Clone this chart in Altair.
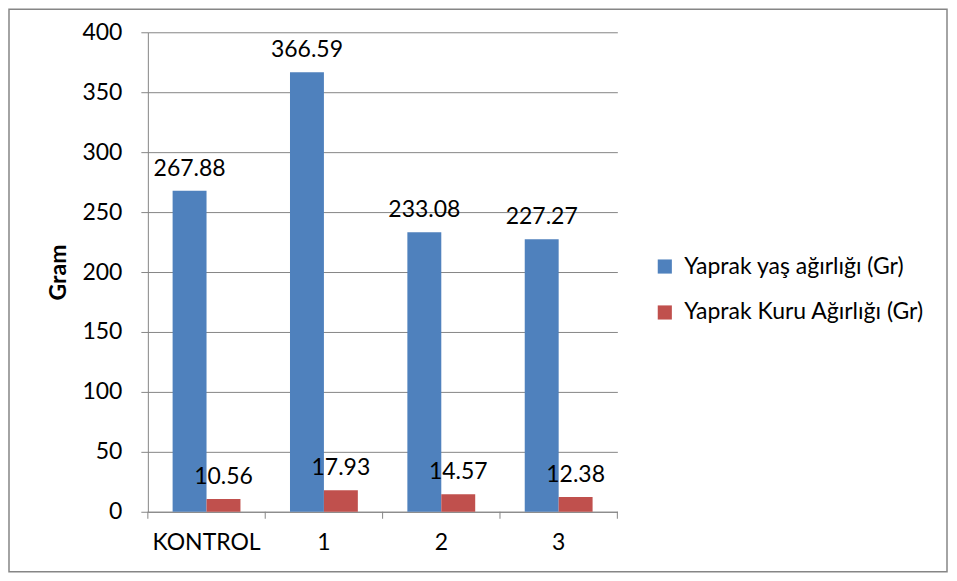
import altair as alt
import pandas as pd

categories = ["KONTROL", "1", "2", "3"]
series = ["Yaprak yaş ağırlığı (Gr)", "Yaprak Kuru Ağırlığı (Gr)"]
fresh = [267.88, 366.59, 233.08, 227.27]
dry = [10.56, 17.93, 14.57, 12.38]
colors = ["#4F81BD", "#C0504D"]

rows = []
for i, c in enumerate(categories):
    rows.append({"cat": c, "series": series[0], "value": fresh[i], "label": f"{fresh[i]:.2f}"})
    rows.append({"cat": c, "series": series[1], "value": dry[i], "label": f"{dry[i]:.2f}"})
df = pd.DataFrame(rows)

FONT = "Lato"
FS = 23
GRAY = "#868686"

xscale = alt.Scale(domain=categories, paddingInner=0, paddingOuter=0)
xoff_scale = alt.Scale(domain=series, paddingInner=0, paddingOuter=0.73)

base = alt.Chart(df).encode(
    x=alt.X("cat:N", scale=xscale, sort=categories,
            axis=alt.Axis(title=None, labelAngle=0, ticks=False, domainColor=GRAY,
                          labelFontSize=FS, labelFont=FONT, labelColor="black",
                          labelPadding=20)),
    xOffset=alt.XOffset("series:N", scale=xoff_scale, sort=series),
    y=alt.Y("value:Q", scale=alt.Scale(domain=[0, 400]),
            axis=alt.Axis(title="Gram", values=list(range(0, 401, 50)), grid=True,
                          gridColor=GRAY, domainColor=GRAY, tickColor=GRAY, tickSize=7,
                          labelFontSize=FS, labelFont=FONT, labelColor="black",
                          labelPadding=19, titleFont=FONT, titleFontSize=23,
                          titleFontWeight="bold", titleX=-89, titleY=240,
                          titleAngle=-90, titleAlign="center", titleBaseline="middle")),
)

bars = base.mark_bar().encode(
    color=alt.Color("series:N", scale=alt.Scale(domain=series, range=colors), sort=series,
                    legend=alt.Legend(title=None, orient="none", legendX=506, legendY=223,
                                      symbolType="square", symbolSize=200,
                                      symbolStrokeWidth=0, labelFont=FONT,
                                      labelFontSize=FS, labelColor="black", labelLimit=0,
                                      labelOffset=8, rowPadding=22)),
)

labels = base.mark_text(font=FONT, fontSize=FS, color="black", dy=-15,
                        baseline="alphabetic").encode(text="label:N")

tick_df = pd.DataFrame({"cat": categories})
ticks = alt.Chart(tick_df).mark_rule(color=GRAY).encode(
    x=alt.X("cat:N", scale=xscale, sort=categories, bandPosition=0),
    y=alt.value(480), y2=alt.value(487),
)
end_tick = alt.Chart(alt.Data(values=[{}])).mark_rule(color=GRAY).encode(
    x=alt.value(470), y=alt.value(480), y2=alt.value(487)
)
border = alt.Chart(alt.Data(values=[{}])).mark_rect(
    fillOpacity=0, stroke=GRAY, strokeWidth=1.5
).encode(
    x=alt.value(-139), x2=alt.value(800), y=alt.value(-23), y2=alt.value(540)
)

chart = alt.layer(border, bars, labels, ticks, end_tick).properties(
    width=470, height=480,
    autosize=alt.AutoSizeParams(type="none"),
    padding={"left": 140, "top": 24, "right": 332, "bottom": 62},
).configure_view(stroke=None)

chart.save("out.html", embed_options={"renderer": "svg", "actions": False})
